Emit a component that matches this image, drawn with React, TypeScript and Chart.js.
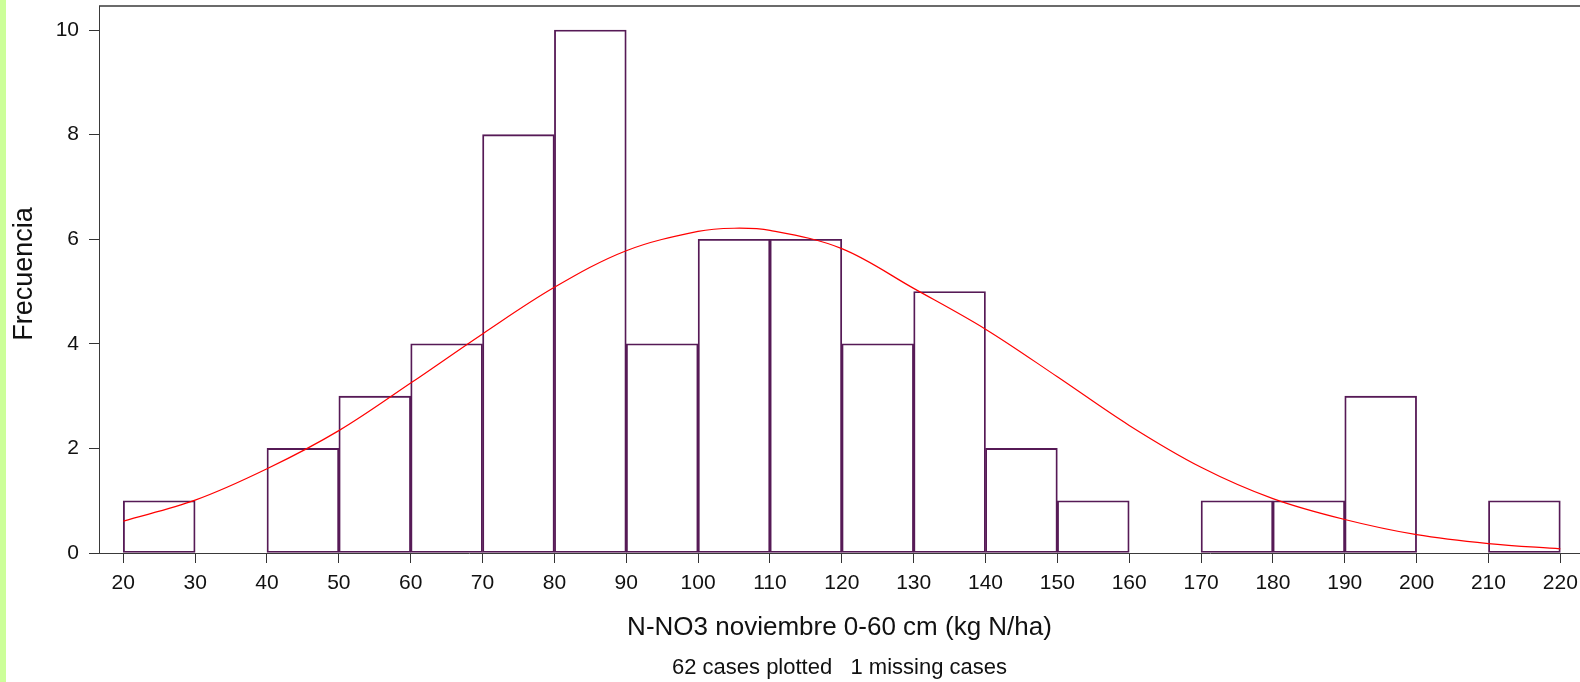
import React, { useEffect, useRef } from "react";
import { Chart, registerables } from "chart.js";

Chart.register(...registerables);

// ---- Data ----
const binStarts = [20, 30, 40, 50, 60, 70, 80, 90, 100, 110, 120, 130, 140, 150, 160, 170, 180, 190, 200, 210];
const binWidth = 10;
const frequencies = [1, 0, 2, 3, 4, 8, 10, 4, 6, 6, 4, 5, 2, 1, 0, 1, 1, 3, 0, 1];

const curveX = [20, 30, 40, 50, 60, 70, 80, 90, 100, 105, 110, 120, 130, 140, 150, 160, 170, 180, 190, 200, 210, 220];
const curveY = [0.61, 1.01, 1.61, 2.34, 3.25, 4.19, 5.08, 5.78, 6.15, 6.21, 6.17, 5.82, 5.06, 4.28, 3.37, 2.44, 1.64, 1.04, 0.64, 0.35, 0.18, 0.08];

const xTickStep = 10;
const yTickStep = 2;
const xMin = 16.62;
const xMax = 222.74;
const yMin = 0;
const yMax = 10.46;

const xAxisTitle = "N-NO3 noviembre 0-60 cm (kg N/ha)";
const yAxisTitle = "Frecuencia";
const footerText = "62 cases plotted   1 missing cases";

const FONT = "Arial, 'Liberation Sans', sans-serif";
const TEXT = "#111111";
const AXIS = "#3a3a3a";

const extrasPlugin = {
  id: "extras",
  afterDraw(chart: any) {
    const { ctx, chartArea } = chart;
    ctx.save();
    // top frame line
    ctx.strokeStyle = AXIS;
    ctx.lineWidth = 1.5;
    ctx.beginPath();
    ctx.moveTo(chartArea.left, chartArea.top);
    ctx.lineTo(chartArea.right, chartArea.top);
    ctx.stroke();

    // y title
    ctx.fillStyle = TEXT;
    ctx.font = `27px ${FONT}`;
    ctx.textAlign = "center";
    ctx.textBaseline = "middle";
    ctx.save();
    ctx.translate(25, 274);
    ctx.rotate(-Math.PI / 2);
    ctx.fillText(yAxisTitle, 0, 0);
    ctx.restore();

    // footer
    ctx.font = `22px ${FONT}`;
    ctx.fillText(footerText, (chartArea.left + chartArea.right) / 2, 668);
    ctx.restore();
  },
};

export default function App() {
  const canvasRef = useRef<HTMLCanvasElement | null>(null);

  useEffect(() => {
    if (!canvasRef.current) return;
    const barData = binStarts.map((s, i) => ({
      x: s + binWidth / 2,
      y: frequencies[i] > 0 ? frequencies[i] : null,
    }));
    const lineData = curveX.map((x, i) => ({ x, y: curveY[i] }));

    const chart = new Chart(canvasRef.current, {
      type: "bar",
      data: {
        datasets: [
          {
            type: "line",
            data: lineData,
            borderColor: "#ff0000",
            borderWidth: 1.2,
            pointRadius: 0,
            tension: 0.35,
            fill: false,
            order: 0,
          } as any,
          {
            type: "bar",
            data: barData,
            backgroundColor: "rgba(0,0,0,0)",
            borderColor: "#561a56",
            borderWidth: 1.2,
            borderSkipped: false,
            categoryPercentage: 1,
            barPercentage: 1,
            order: 1,
          } as any,
        ],
      },
      options: {
        responsive: false,
        animation: false,
        events: [],
        layout: { padding: { top: 6, left: 0, right: 0, bottom: 0 } },
        plugins: {
          legend: { display: false },
          tooltip: { enabled: false },
          title: { display: false },
        },
        scales: {
          x: {
            type: "linear",
            min: xMin,
            max: xMax,
            offset: false,
            grid: {
              display: true,
              drawOnChartArea: false,
              drawTicks: true,
              tickLength: 10,
              tickColor: "#333333",
              offset: false,
            },
            border: { display: true, color: AXIS, width: 1 },
            ticks: {
              stepSize: xTickStep,
              includeBounds: false,
              autoSkip: false,
              maxRotation: 0,
              minRotation: 0,
              padding: 8,
              color: TEXT,
              font: { family: FONT, size: 21 },
            },
            title: {
              display: true,
              text: xAxisTitle,
              color: TEXT,
              font: { family: FONT, size: 26 },
              padding: { top: 0, bottom: 39 },
            },
            afterFit: (s: any) => {
              s.height = 129;
              s.paddingLeft = 0;
              s.paddingRight = 0;
            },
          } as any,
          y: {
            type: "linear",
            min: yMin,
            max: yMax,
            grid: {
              display: true,
              drawOnChartArea: false,
              drawTicks: true,
              tickLength: 10,
              tickColor: "#333333",
            },
            border: { display: true, color: AXIS, width: 1 },
            ticks: {
              stepSize: yTickStep,
              includeBounds: false,
              padding: 10,
              color: TEXT,
              font: { family: FONT, size: 21 },
            },
            afterFit: (s: any) => {
              s.width = 99;
              s.paddingTop = 0;
              s.paddingBottom = 0;
            },
          } as any,
        },
      },
      plugins: [extrasPlugin],
    });
    return () => chart.destroy();
  }, []);

  return (
    <div style={{ position: "absolute", left: 0, top: 0, width: 1580, height: 682, background: "#ffffff" }}>
      <div style={{ position: "absolute", left: 0, top: 0, width: 6, height: 682, background: "#ccff99" }} />
      <canvas
        ref={canvasRef}
        width={1580}
        height={682}
        style={{ position: "absolute", left: 0, top: 0, width: 1580, height: 682 }}
      />
    </div>
  );
}
